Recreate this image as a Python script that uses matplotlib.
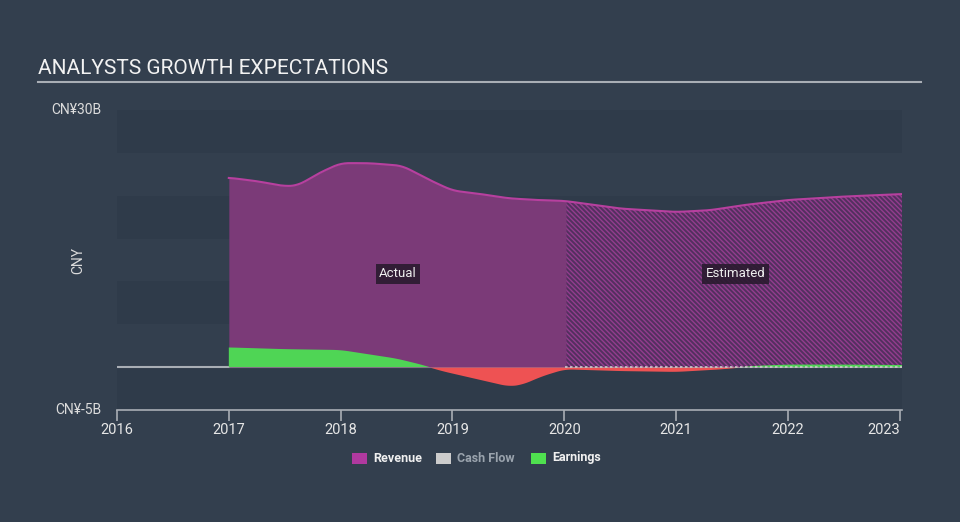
import numpy as np
import matplotlib.pyplot as plt
from matplotlib.patches import Rectangle

plt.rcParams['font.family'] = ['Roboto', 'DejaVu Sans']
plt.rcParams['hatch.linewidth'] = 1.0

# values in CNY billions, x in decimal years
rev_x = [2017.0, 2017.25, 2017.5, 2017.62, 2017.8, 2018.0, 2018.25, 2018.55, 2018.8,
         2019.0, 2019.25, 2019.5, 2019.75, 2020.0, 2020.5, 2021.0, 2021.3, 2021.6,
         2022.0, 2022.5, 2023.02]
rev_y = [22.1, 21.7, 21.1, 21.2, 22.6, 23.8, 23.8, 23.5, 21.8,
         20.6, 20.2, 19.7, 19.5, 19.4, 18.5, 18.1, 18.3, 18.9,
         19.5, 19.9, 20.2]

earn_x = [2017.0, 2017.5, 2018.0, 2018.15, 2018.5, 2018.72, 2018.9, 2019.1, 2019.3,
          2019.5, 2019.62, 2019.8, 2020.0, 2020.5, 2021.0, 2021.4, 2021.7, 2022.0,
          2022.5, 2023.02]
earn_y = [2.3, 2.1, 2.0, 1.7, 1.0, 0.3, -0.4, -1.0, -1.6,
          -2.2, -2.0, -1.0, -0.2, -0.4, -0.5, -0.2, 0.15, 0.3,
          0.3, 0.25]

year_ticks = [2016, 2017, 2018, 2019, 2020, 2021, 2022, 2023]
split = 2020.0

bg = '#333f4e'
band = '#2f3b4a'
rev_fill = '#7b3a78'
rev_line = '#b7409f'
green = '#4fd555'
red = '#ee5253'

fig = plt.figure(figsize=(9.6, 5.22), dpi=100)
fig.patch.set_facecolor(bg)
ax = fig.add_axes([117/960, 1-410/522, (902-117)/960, (410-110)/522])
ax.set_facecolor(bg)
ax.set_xlim(2016, 2023.02)
ax.set_ylim(-5, 30)

for lo in [25, 15, 5, -5]:
    ax.axhspan(lo, lo + 5, color=band, lw=0, zorder=0)

# fine grid so the fills look smooth
xs = np.linspace(2017.0, 2023.02, 600)
rev = np.interp(xs, rev_x, rev_y)
earn = np.interp(xs, earn_x, earn_y)
k = np.ones(15) / 15
rev = np.convolve(np.pad(rev, 7, mode='edge'), k, mode='valid')
earn = np.convolve(np.pad(earn, 7, mode='edge'), k, mode='valid')

ax.axhline(0, color='#a9aeb5', lw=1.5, zorder=1)

act = xs <= split + 0.02
est = xs >= split
ax.fill_between(xs[est], 0, rev[est], facecolor='#53305f', edgecolor='#933d8e',
                hatch='\\' * 7, lw=0, zorder=2)
ax.fill_between(xs[act], 0, rev[act], color=rev_fill, lw=0, zorder=2)
ax.plot(xs, rev, color=rev_line, lw=1.5, zorder=4)

ax.fill_between(xs, 0, earn, where=earn >= 0, interpolate=True, color=green, lw=0, zorder=3)
ax.fill_between(xs, 0, earn, where=earn <= 0, interpolate=True, color=red, lw=0, zorder=3)
ax.plot(xs[est], np.zeros(est.sum()), color='#c9c9c9', lw=1.2, ls=(0, (1.5, 1.5)), zorder=3)

for s in ['top', 'right', 'left']:
    ax.spines[s].set_visible(False)
ax.spines['bottom'].set_color('#a9aeb5')
ax.spines['bottom'].set_linewidth(1.2)
ax.set_xticks(year_ticks)
ax.set_xticklabels([str(y) for y in year_ticks])
ax.tick_params(axis='x', colors='#a9aeb5', length=8, width=1.2, labelsize=10.5,
               labelcolor='#e6e6e6', pad=1)
ax.get_xticklabels()[-1].set_ha('right')
ax.set_yticks([])

ax.text(-0.02, 1.0, 'CN¥30B', transform=ax.transAxes, ha='right', va='center',
        color='#dcdcdc', fontsize=10)
ax.text(-0.02, 0.0, 'CN¥-5B', transform=ax.transAxes, ha='right', va='center',
        color='#dcdcdc', fontsize=10)
ax.text(-0.049, 0.5, 'CNY', transform=ax.transAxes, ha='center', va='center',
        rotation=90, color='#dcdcdc', fontsize=10)

box = dict(boxstyle='square,pad=0.25', facecolor='#2a1a2f', edgecolor='none', alpha=0.9)
ax.text(2018.51, 10.9, 'Actual', ha='center', va='center', color='#eeeeee',
        fontsize=9.5, bbox=box, zorder=6)
ax.text(2021.53, 10.9, 'Estimated', ha='center', va='center', color='#eeeeee',
        fontsize=9.5, bbox=box, zorder=6)

fig.text(38/960, 1-68/522, 'ANALYSTS GROWTH EXPECTATIONS', ha='left', va='center',
         color='#f2f2f2', fontsize=15)
fig.add_artist(plt.Line2D([38/960, 921/960], [1-82/522, 1-82/522], color='#a9aeb5', lw=1.5))

legend_items = [('Revenue', '#b0399f', '#f0f0f0'),
                ('Cash Flow', '#cccccc', '#9aa3ad'),
                ('Earnings', '#4fe04f', '#f0f0f0')]
lx = [352, 436, 531]
for (name, c, tc), x0 in zip(legend_items, lx):
    fig.patches.append(Rectangle((x0/960, 1-464/522), 15/960, 11/522, transform=fig.transFigure,
                                 facecolor=c, edgecolor='none'))
    fig.text((x0 + 21)/960, 1-458/522, name, ha='left', va='center', color=tc,
             fontsize=9, fontweight='bold')

fig.savefig('out.png', dpi=100, facecolor=bg)
